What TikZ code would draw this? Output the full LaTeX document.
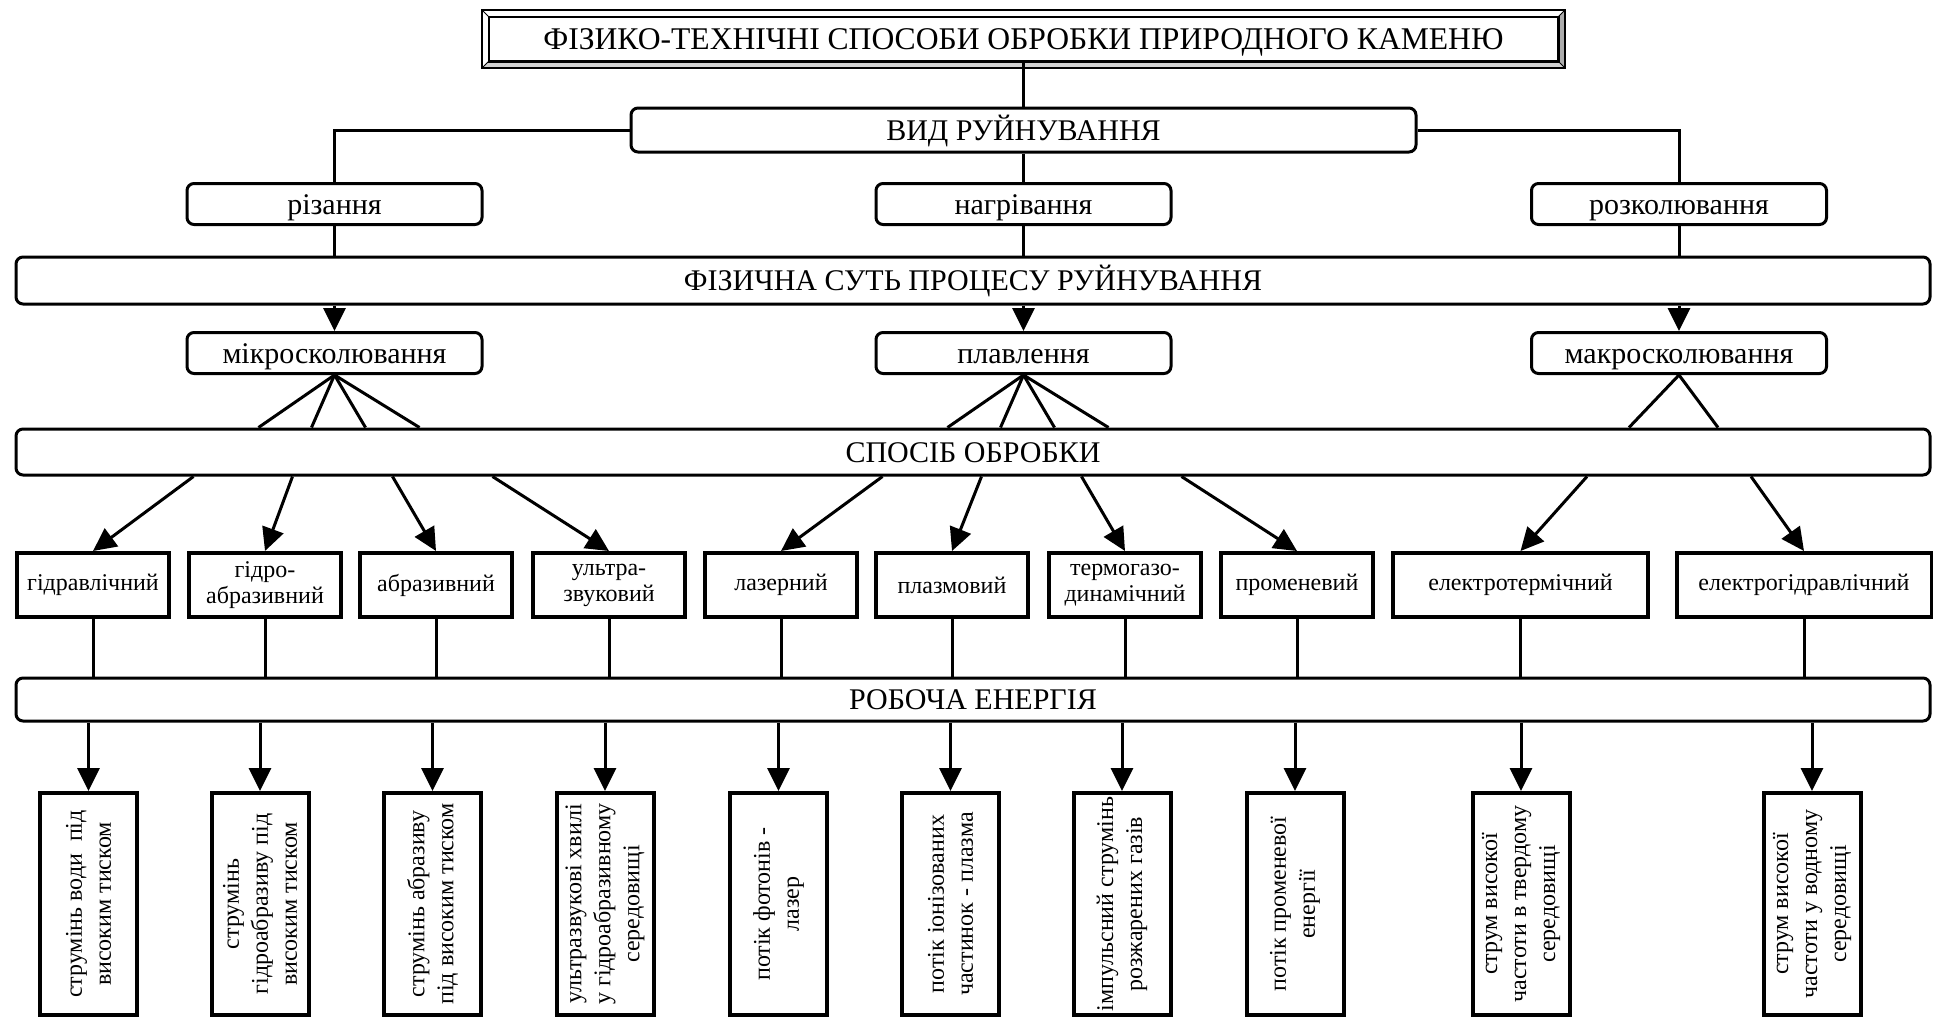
\documentclass[tikz,border=0pt]{standalone}
\usepackage{fontspec}
\setmainfont{Liberation Serif}
\usetikzlibrary{arrows.meta, calc}
\tikzset{
>={Triangle[length=23pt, width=22pt]}, % filled arrow heads
titlebox/.style={draw, line width=1.5pt, minimum width=1069pt, minimum height=44pt, inner sep=0pt, text height=21pt, text depth=0pt, font=\fontsize{31.6}{35}\selectfont}, % inner frame of the title
head/.style={draw, rounded corners=7pt, inner sep=0pt, text height=20pt, text depth=0pt, font=\fontsize{30}{34}\selectfont}, % rounded boxes
stage/.style={minimum width=295pt, minimum height=41pt}, % short rounded boxes
band/.style={minimum width=1914pt, minimum height=45pt}, % boxes across the whole page
method/.style={draw, line width=4pt, minimum width=152pt, minimum height=64pt, inner sep=2pt, align=center, font=\fontsize{24}{26}\selectfont}, % ways of working
result/.style={draw, line width=4pt, rotate=90, minimum width=222pt, minimum height=97pt, inner sep=2pt, align=center, font=\fontsize{24}{29}\selectfont}, % turned boxes, their top side is .east
}

\begin{document}
\begin{tikzpicture}[
  x=1pt, y=-1pt,
  line width=3pt
]
  \useasboundingbox (0,0) rectangle (1933,1018);

  \node[titlebox] (title) at (1023.5,39) {ФІЗИКО-ТЕХНІЧНІ СПОСОБИ ОБРОБКИ ПРИРОДНОГО КАМЕНЮ};
  \fill[gray!35] (title.south west) -- (title.south east) -- ([shift={(6pt,-6pt)}]title.south east) -- ([shift={(-6pt,-6pt)}]title.south west) -- cycle;
  \fill[gray!65] (title.south east) -- (title.north east) -- ([shift={(6pt,6pt)}]title.north east) -- ([shift={(6pt,-6pt)}]title.south east) -- cycle;
  \draw[line width=1.5pt] (title.south west) rectangle (title.north east);
  \draw[line width=2pt] ([shift={(-6pt,6pt)}]title.north west) rectangle ([shift={(6pt,-6pt)}]title.south east);
  \draw[line width=1pt] (title.north west) -- ++(-6pt,6pt) (title.north east) -- ++(6pt,6pt)
    (title.south west) -- ++(-6pt,-6pt) (title.south east) -- ++(6pt,-6pt);

  \node[head, minimum width=785pt, minimum height=44pt] (kind) at (1023.5,130) {ВИД РУЙНУВАННЯ};
  \node[head, stage] (cut) at (334.5,204) {різання};
  \node[head, stage] (heat) at (1023.5,204) {нагрівання};
  \node[head, stage] (split) at (1679,204) {розколювання};
  \node[head, band, minimum height=47pt] (essence) at (973,280.5) {ФІЗИЧНА СУТЬ ПРОЦЕСУ РУЙНУВАННЯ};
  \node[head, stage] (micro) at (334.5,353) {мікросколювання};
  \node[head, stage] (melt) at (1023.5,353) {плавлення};
  \node[head, stage] (macro) at (1679,353) {макросколювання};
  \node[head, band, minimum height=46pt] (way) at (973,452) {СПОСІБ ОБРОБКИ};

  \node[method] (m1) at (93,585) {гідравлічний};
  \node[method] (m2) at (265,585) {гідро-\\абразивний};
  \node[method] (m3) at (436,585) {абразивний};
  \node[method] (m4) at (609,585) {ультра-\\звуковий};
  \node[method] (m5) at (781,585) {лазерний};
  \node[method] (m6) at (952,585) {плазмовий};
  \node[method] (m7) at (1125,585) {термогазо-\\динамічний};
  \node[method] (m8) at (1297,585) {променевий};
  \node[method, minimum width=255pt] (m9) at (1520.5,585) {електротермічний};
  \node[method, minimum width=255pt] (m10) at (1804,585) {електрогідравлічний};

  \node[head, band, minimum height=43pt] (power) at (973,699.5) {РОБОЧА ЕНЕРГІЯ};

  \node[result] (r1) at (88.5,904) {струмінь води~~під\\високим тиском};
  \node[result] (r2) at (260,904) {струмінь\\гідроабразиву під\\високим тиском};
  \node[result] (r3) at (432.5,904) {струмінь абразиву\\під високим тиском};
  \node[result] (r4) at (605,904) {ультразвукові хвилі\\у гідроабразивному\\середовищі};
  \node[result] (r5) at (778.5,904) {потік фотонів -\\лазер};
  \node[result] (r6) at (950.5,904) {потік іонізованих\\частинок - плазма};
  \node[result] (r7) at (1122,904) {імпульсний струмінь\\розжарених газів};
  \node[result] (r8) at (1295,904) {потік променевої\\енергії};
  \node[result] (r9) at (1521,904) {струм високої\\частоти в твердому\\середовищі};
  \node[result] (r10) at (1812,904) {струм високої\\частоти у водному\\середовищі};

  \draw (title.south) -- (kind.north);
  \draw (kind.west) -| (cut.north);
  \draw (kind.east) -| (split.north);
  \draw (kind.south) -- (heat.north);
  \draw (cut.south) -- (cut.south |- essence.north);
  \draw (heat.south) -- (heat.south |- essence.north);
  \draw (split.south) -- (split.south |- essence.north);
  \draw[->] (cut.south |- essence.south) -- (micro.north);
  \draw[->] (heat.south |- essence.south) -- (melt.north);
  \draw[->] (split.south |- essence.south) -- (macro.north);

  \draw (micro.south) -- ($(micro.south |- way.north)+(-76,0)$);
  \draw (micro.south) -- ($(micro.south |- way.north)+(-23,0)$);
  \draw (micro.south) -- ($(micro.south |- way.north)+(31,0)$);
  \draw (micro.south) -- ($(micro.south |- way.north)+(85,0)$);
  \draw (melt.south) -- ($(melt.south |- way.north)+(-76,0)$);
  \draw (melt.south) -- ($(melt.south |- way.north)+(-23,0)$);
  \draw (melt.south) -- ($(melt.south |- way.north)+(31,0)$);
  \draw (melt.south) -- ($(melt.south |- way.north)+(85,0)$);
  \draw (macro.south) -- ($(macro.south |- way.north)+(-50,0)$);
  \draw (macro.south) -- ($(macro.south |- way.north)+(39,0)$);

  \draw[->] ($(micro.south |- way.south)+(-141,0)$) -- (m1.north);
  \draw[->] ($(micro.south |- way.south)+(-42,0)$) -- (m2.north);
  \draw[->] ($(micro.south |- way.south)+(58,0)$) -- (m3.north);
  \draw[->] ($(micro.south |- way.south)+(158,0)$) -- (m4.north);
  \draw[->] ($(melt.south |- way.south)+(-141,0)$) -- (m5.north);
  \draw[->] ($(melt.south |- way.south)+(-42,0)$) -- (m6.north);
  \draw[->] ($(melt.south |- way.south)+(58,0)$) -- (m7.north);
  \draw[->] ($(melt.south |- way.south)+(158,0)$) -- (m8.north);
  \draw[->] ($(macro.south |- way.south)+(-92,0)$) -- (m9.north);
  \draw[->] ($(macro.south |- way.south)+(72,0)$) -- (m10.north);

  \draw (m1.south) -- (m1.south |- power.north);
  \draw (m2.south) -- (m2.south |- power.north);
  \draw (m3.south) -- (m3.south |- power.north);
  \draw (m4.south) -- (m4.south |- power.north);
  \draw (m5.south) -- (m5.south |- power.north);
  \draw (m6.south) -- (m6.south |- power.north);
  \draw (m7.south) -- (m7.south |- power.north);
  \draw (m8.south) -- (m8.south |- power.north);
  \draw (m9.south) -- (m9.south |- power.north);
  \draw (m10.south) -- (m10.south |- power.north);

  \draw[->] (r1.east |- power.south) -- (r1.east);
  \draw[->] (r2.east |- power.south) -- (r2.east);
  \draw[->] (r3.east |- power.south) -- (r3.east);
  \draw[->] (r4.east |- power.south) -- (r4.east);
  \draw[->] (r5.east |- power.south) -- (r5.east);
  \draw[->] (r6.east |- power.south) -- (r6.east);
  \draw[->] (r7.east |- power.south) -- (r7.east);
  \draw[->] (r8.east |- power.south) -- (r8.east);
  \draw[->] (r9.east |- power.south) -- (r9.east);
  \draw[->] (r10.east |- power.south) -- (r10.east);
\end{tikzpicture}
\end{document}
